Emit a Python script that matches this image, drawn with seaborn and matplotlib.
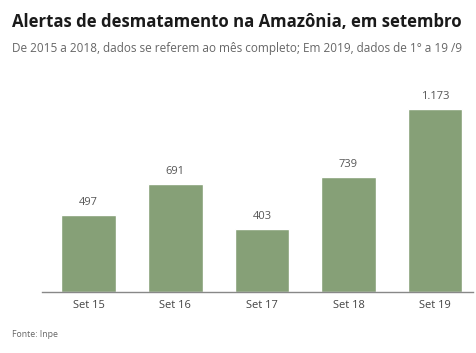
import matplotlib
matplotlib.use("Agg")
import matplotlib.pyplot as plt
import pandas as pd
import seaborn as sns

# dados
categorias = ["Set 15", "Set 16", "Set 17", "Set 18", "Set 19"]
alertas = [497, 691, 403, 739, 1173]
rotulos = ["497", "691", "403", "739", "1.173"]

titulo = "Alertas de desmatamento na Amazônia, em setembro"
subtitulo = "De 2015 a 2018, dados se referem ao mês completo; Em 2019, dados de 1° a 19 /9"
fonte = "Fonte: Inpe"


def main() -> None:
    df = pd.DataFrame({"mes": categorias, "alertas": alertas})

    sns.set_style("white")
    plt.rcParams["font.family"] = ["Open Sans", "DejaVu Sans"]

    fig = plt.figure(figsize=(4.77, 3.53), dpi=100)
    ax = fig.add_axes([0.088, 0.173, 0.904, 0.60])

    sns.barplot(data=df, x="mes", y="alertas", color="#86a077", saturation=1,
                width=0.63, ax=ax)

    for i, (v, lab) in enumerate(zip(alertas, rotulos)):
        ax.text(i, v + 45, lab, ha="center", va="bottom", fontsize=8, color="#555555")

    ax.set_ylim(0, 1360)
    ax.set_xlim(-0.54, 4.44)
    ax.set_yticks([])
    ax.set_xlabel("")
    ax.set_ylabel("")
    ax.tick_params(axis="x", length=0, labelsize=8, labelcolor="#444444", pad=6)
    sns.despine(ax=ax, left=True, top=True, right=True)
    ax.spines["bottom"].set_color("#888888")
    ax.spines["bottom"].set_linewidth(1.0)

    fig.text(0.025, 0.937, titulo, fontsize=12.1, fontweight="bold", color="#1a1a1a",
             ha="left", va="center")
    fig.text(0.025, 0.864, subtitulo, fontsize=8.45, color="#666666", ha="left", va="center")
    fig.text(0.025, 0.052, fonte, fontsize=6.3, color="#666666", ha="left", va="center")

    fig.savefig("out.png", dpi=100)
    plt.close(fig)


if __name__ == "__main__":
    main()
